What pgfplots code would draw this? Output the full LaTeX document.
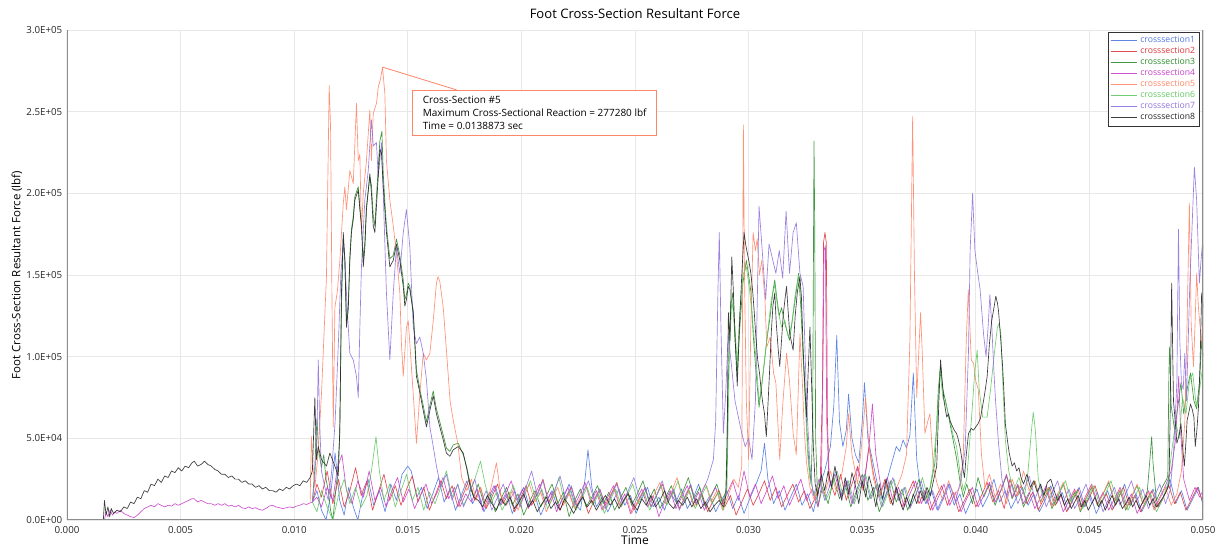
\documentclass[border=0pt]{standalone}
\usepackage{pgfplots}
\pgfplotsset{compat=1.18}
\usepackage{fontspec}
\setmainfont{Open Sans}
\definecolor{c1}{RGB}{80,120,225}
\definecolor{c2}{RGB}{222,55,60}
\definecolor{c3}{RGB}{45,140,45}
\definecolor{c4}{RGB}{200,65,200}
\definecolor{c5}{RGB}{255,135,105}
\definecolor{c6}{RGB}{100,200,100}
\definecolor{c7}{RGB}{145,115,222}
\definecolor{c8}{RGB}{40,40,40}
\begin{document}
\begin{tikzpicture}
\useasboundingbox (-50.25pt,-21.75pt) rectangle (866.25pt,390pt);
\begin{axis}[
  at={(0,0)}, anchor=south west,
  width=852pt, height=367.5pt, scale only axis,
  xmin=0, xmax=50, ymin=0, ymax=300,
  xtick={0,5,...,50},
  xticklabels={0.000,0.005,0.010,0.015,0.020,0.025,0.030,0.035,0.040,0.045,0.050},
  ytick={0,50,...,300},
  yticklabels={0.0E+00,5.0E+04,1.0E+05,1.5E+05,2.0E+05,2.5E+05,3.0E+05},
  major tick length=0pt,
  tick label style={font=\fontsize{7.3}{8}\selectfont, text=black!85},
  xticklabel style={yshift=-1pt},
  grid=major,
  major grid style={draw=black!9, line width=0.6pt},
  axis line style={draw=none},
  title={Foot Cross-Section Resultant Force},
  title style={at={(rel axis cs:0.5,1)}, anchor=center, yshift=6pt, font=\fontsize{9.8}{11}\selectfont},
  xlabel={Time},
  xlabel style={at={(rel axis cs:0.5,0)}, anchor=center, yshift=-15pt, font=\fontsize{9}{10}\selectfont},
  ylabel={Foot Cross-Section Resultant Force (lbf)},
  ylabel style={at={(axis description cs:-0.044,0.5)}, anchor=center, font=\fontsize{8.6}{10}\selectfont},
  every axis plot/.append style={line width=0.5pt, line join=round, opacity=0.9},
  legend style={at={(rel axis cs:0.997,0.996)}, anchor=north east, draw=black!80, line width=0.6pt, fill=white, fill opacity=1, text opacity=1, font=\fontsize{6.5}{7}\selectfont, inner sep=1pt, row sep=-2pt, cells={anchor=west}},
  legend image code/.code={\draw[#1, line width=0.6pt] (0pt,0pt) -- (20pt,0pt);},
]
% crosssection1
\addplot[c1] coordinates {(10.8,11)(11.0,18)(11.2,6)(11.4,0)(11.6,15)(11.8,41)(12.0,12)(12.2,3)(12.4,20)(12.6,8)(12.8,0)(13.0,14)(13.25,25)(13.5,9)(13.75,18)(14.0,5)(14.25,22)(14.5,12)(14.75,28)(15.0,33)(15.15,30)(15.4,14)(15.6,20)(15.85,7)(16.1,16)(16.35,26)(16.6,11)(16.85,19)(17.1,6)(17.35,15)(17.6,24)(17.85,10)(18.1,17)(18.35,5)(18.6,13)(18.85,21)(19.1,9)(19.35,16)(19.6,4)(19.85,12)(20.1,20)(20.35,8)(20.6,15)(20.85,3)(21.1,11)(21.35,18)(21.6,7)(21.85,14)(22.1,22)(22.35,10)(22.6,6)(22.8,25)(22.93,43)(23.1,20)(23.3,8)(23.55,14)(23.8,5)(24.05,12)(24.3,19)(24.55,9)(24.8,15)(25.05,4)(25.3,13)(25.55,20)(25.8,8)(26.05,14)(26.3,6)(26.55,17)(26.8,11)(27.05,19)(27.3,7)(27.55,13)(27.8,22)(28.05,9)(28.3,15)(28.55,5)(28.8,12)(29.05,18)(29.3,7)(29.55,15)(29.8,4)(30.05,13)(30.3,21)(30.55,30)(30.7,47)(30.85,25)(31.1,10)(31.35,18)(31.6,6)(31.85,14)(32.1,22)(32.35,9)(32.6,16)(32.85,5)(33.1,20)(33.35,30)(33.6,45)(33.75,70)(33.88,113)(34.0,60)(34.15,45)(34.3,55)(34.4,77)(34.55,50)(34.7,40)(34.85,35)(35.0,60)(35.1,84)(35.25,50)(35.4,40)(35.55,30)(35.7,20)(35.9,12)(36.1,25)(36.3,35)(36.5,45)(36.65,42)(36.8,49)(36.95,44)(37.1,52)(37.25,90)(37.4,37)(37.55,20)(37.8,10)(38.05,18)(38.3,6)(38.55,14)(38.8,22)(39.05,9)(39.3,16)(39.55,4)(39.8,12)(40.05,19)(40.3,8)(40.55,15)(40.8,25)(41.05,11)(41.3,18)(41.55,7)(41.8,14)(42.05,20)(42.3,9)(42.55,16)(42.8,5)(43.05,12)(43.3,21)(43.55,10)(43.8,17)(44.05,6)(44.3,13)(44.55,20)(44.8,8)(45.05,15)(45.3,4)(45.55,11)(45.8,18)(46.05,7)(46.3,14)(46.55,22)(46.8,9)(47.05,16)(47.3,5)(47.55,12)(47.8,19)(48.05,8)(48.3,15)(48.55,25)(48.8,10)(49.05,18)(49.3,6)(49.55,13)(49.8,20)(50.0,9)};
\addlegendentry{\textcolor{c1}{crosssection1}}
% crosssection2
\addplot[c2] coordinates {(10.8,11)(11.0,22)(11.2,14)(11.45,30)(11.7,10)(11.95,25)(12.2,8)(12.45,18)(12.7,32)(12.95,15)(13.2,24)(13.45,6)(13.7,17)(13.95,28)(14.2,12)(14.45,21)(14.7,9)(14.95,19)(15.2,27)(15.45,11)(15.7,20)(15.95,6)(16.2,15)(16.45,24)(16.7,13)(16.95,21)(17.2,8)(17.45,16)(17.7,25)(17.95,12)(18.2,20)(18.45,7)(18.7,14)(18.95,22)(19.2,10)(19.45,17)(19.7,5)(19.95,13)(20.2,21)(20.45,9)(20.7,16)(20.95,25)(21.2,11)(21.45,18)(21.7,6)(21.95,14)(22.2,20)(22.45,8)(22.7,15)(22.95,4)(23.2,12)(23.45,19)(23.7,9)(23.95,16)(24.2,23)(24.45,10)(24.7,17)(24.95,6)(25.2,13)(25.45,20)(25.7,8)(25.95,15)(26.2,22)(26.45,11)(26.7,18)(26.95,7)(27.2,14)(27.45,21)(27.7,9)(27.95,16)(28.2,5)(28.45,12)(28.7,18)(28.95,8)(29.2,15)(29.45,3)(29.7,11)(29.95,19)(30.2,9)(30.45,16)(30.7,24)(30.95,12)(31.2,20)(31.45,8)(31.7,15)(31.95,22)(32.2,11)(32.45,18)(32.7,7)(32.95,14)(33.15,22)(33.25,80)(33.3,170)(33.36,176)(33.42,170)(33.47,60)(33.55,25)(33.8,15)(34.05,28)(34.3,12)(34.55,22)(34.8,33)(35.05,18)(35.3,45)(35.5,28)(35.75,14)(36.0,25)(36.25,10)(36.5,20)(36.75,8)(37.0,16)(37.25,24)(37.5,10)(37.75,18)(38.0,6)(38.25,14)(38.5,21)(38.75,9)(39.0,17)(39.25,5)(39.5,12)(39.75,19)(40.0,8)(40.25,15)(40.5,23)(40.75,11)(41.0,18)(41.25,7)(41.5,25)(41.75,14)(42.0,21)(42.25,10)(42.5,17)(42.75,6)(43.0,13)(43.25,20)(43.5,9)(43.75,15)(44.0,5)(44.25,12)(44.5,19)(44.75,8)(45.0,14)(45.25,21)(45.5,10)(45.75,16)(46.0,6)(46.25,13)(46.5,20)(46.75,9)(47.0,15)(47.25,5)(47.5,12)(47.75,18)(48.0,8)(48.25,14)(48.5,21)(48.75,10)(49.0,17)(49.25,6)(49.5,13)(49.75,20)(50.0,11)};
\addlegendentry{\textcolor{c2}{crosssection2}}
% crosssection3
\addplot[c3] coordinates {(10.8,11)(10.9,30)(11.0,62)(11.08,42)(11.2,32)(11.3,40)(11.4,25)(11.5,18)(11.6,6)(11.7,0)(11.8,14)(11.9,28)(12.0,50)(12.08,130)(12.16,172)(12.23,160)(12.3,122)(12.38,132)(12.45,162)(12.52,178)(12.6,186)(12.67,198)(12.82,204)(12.89,192)(12.96,182)(13.04,160)(13.11,170)(13.18,192)(13.33,210)(13.4,205)(13.48,186)(13.55,180)(13.62,198)(13.77,232)(13.86,238)(13.92,212)(13.99,195)(14.06,180)(14.21,160)(14.36,162)(14.5,172)(14.65,162)(14.8,147)(14.87,135)(14.94,138)(15.02,145)(15.09,143)(15.24,128)(15.38,92)(15.53,80)(15.68,70)(15.82,60)(15.97,70)(16.12,79)(16.26,68)(16.41,60)(16.56,52)(16.7,44)(16.85,42)(17.0,46)(17.22,47)(17.44,40)(17.6,32)(17.75,22)(17.9,14)(18.1,22)(18.35,10)(18.6,17)(18.85,5)(19.1,13)(19.35,20)(19.6,9)(19.85,16)(20.1,3)(20.35,11)(20.6,18)(20.85,8)(21.1,15)(21.35,22)(21.6,10)(21.85,17)(22.1,2)(22.35,12)(22.6,19)(22.85,8)(23.1,14)(23.35,21)(23.6,10)(23.85,17)(24.1,6)(24.35,13)(24.6,20)(24.85,9)(25.1,16)(25.35,24)(25.6,12)(25.85,19)(26.1,7)(26.35,14)(26.6,21)(26.85,10)(27.1,17)(27.35,26)(27.6,13)(27.85,20)(28.1,8)(28.35,15)(28.6,22)(28.85,10)(29.0,18)(29.1,80)(29.2,130)(29.3,139)(29.4,110)(29.5,90)(29.6,115)(29.75,145)(29.9,159)(30.0,150)(30.1,140)(30.2,114)(30.3,95)(30.46,69)(30.6,85)(30.8,110)(30.95,125)(31.07,140)(31.15,147)(31.25,135)(31.35,125)(31.45,130)(31.6,120)(31.8,110)(31.95,125)(32.1,140)(32.2,151)(32.3,130)(32.4,100)(32.47,84)(32.55,60)(32.65,35)(32.75,22)(32.82,60)(32.86,180)(32.88,232)(32.91,180)(32.95,50)(33.05,8)(33.25,20)(33.5,10)(33.75,26)(34.0,13)(34.25,22)(34.5,8)(34.75,18)(35.0,28)(35.25,12)(35.5,20)(35.75,5)(36.0,14)(36.25,24)(36.5,11)(36.75,19)(37.0,6)(37.25,15)(37.5,25)(37.75,12)(38.0,20)(38.2,35)(38.35,80)(38.45,94)(38.55,80)(38.7,71)(38.85,60)(39.0,49)(39.15,38)(39.3,24)(39.45,14)(39.6,22)(39.85,10)(40.1,26)(40.35,14)(40.6,22)(40.85,9)(41.1,18)(41.35,27)(41.6,13)(41.85,21)(42.1,8)(42.35,16)(42.6,24)(42.85,11)(43.1,19)(43.35,7)(43.6,14)(43.85,22)(44.1,10)(44.35,17)(44.6,5)(44.85,13)(45.1,20)(45.35,9)(45.6,16)(45.85,23)(46.1,11)(46.35,18)(46.6,6)(46.85,14)(47.1,21)(47.35,10)(47.55,18)(47.68,40)(47.74,51)(47.8,35)(47.95,12)(48.2,20)(48.4,25)(48.45,27)(48.5,90)(48.53,106)(48.6,70)(48.75,55)(48.9,70)(49.03,84)(49.15,65)(49.3,80)(49.45,90)(49.6,73)(49.72,68)(49.85,85)(49.94,110)(50.0,100)};
\addlegendentry{\textcolor{c3}{crosssection3}}
% crosssection4
\addplot[c4] coordinates {(0,0)(1.65,0)(1.72,5)(1.8,2)(1.9,6)(2.0,3)(2.1,5)(2.2,4)(2.35,6)(2.5,4)(2.65,3)(2.8,2)(2.95,1.5)(3.1,3)(3.25,5)(3.4,7)(3.55,8)(3.7,9)(3.85,8)(4.0,10)(4.15,9)(4.3,8)(4.45,9)(4.6,8.5)(4.75,10)(4.9,9)(5.05,10)(5.2,11)(5.35,12)(5.5,13)(5.6,13)(5.75,11)(5.9,12)(6.05,11)(6.2,10)(6.35,10)(6.5,9)(6.65,10)(6.8,9)(6.95,10)(7.1,8.5)(7.25,9)(7.4,8)(7.55,9)(7.7,7.5)(7.85,7)(8.0,8)(8.15,7)(8.3,7.5)(8.45,6.5)(8.6,6)(8.75,7)(8.9,8.5)(9.05,9)(9.2,8)(9.35,7.5)(9.5,7)(9.65,7.5)(9.8,8)(9.95,7.5)(10.1,8.5)(10.25,9)(10.4,10)(10.55,9.5)(10.7,10.5)(10.8,11)(11.0,14)(11.2,8)(11.45,20)(11.7,12)(11.9,32)(12.1,40)(12.3,18)(12.55,10)(12.8,24)(13.05,14)(13.3,30)(13.55,12)(13.8,20)(14.05,8)(14.3,18)(14.55,26)(14.8,11)(15.05,19)(15.3,7)(15.55,15)(15.8,22)(16.05,10)(16.3,17)(16.55,26)(16.8,13)(17.05,20)(17.3,8)(17.55,16)(17.8,11)(18.05,19)(18.3,6)(18.55,14)(18.8,21)(19.05,9)(19.3,16)(19.55,24)(19.8,12)(20.05,19)(20.3,7)(20.55,14)(20.8,22)(21.05,10)(21.3,17)(21.55,5)(21.8,13)(22.05,20)(22.3,8)(22.55,15)(22.8,23)(23.05,11)(23.3,18)(23.55,6)(23.8,14)(24.05,21)(24.3,9)(24.55,16)(24.8,4)(25.05,12)(25.3,19)(25.55,8)(25.8,15)(26.05,2)(26.3,11)(26.55,18)(26.8,7)(27.05,14)(27.3,21)(27.55,10)(27.8,17)(28.05,6)(28.3,13)(28.55,20)(28.8,9)(29.05,16)(29.3,24)(29.55,12)(29.8,30)(30.05,14)(30.3,22)(30.55,10)(30.8,18)(31.05,27)(31.3,13)(31.55,21)(31.8,9)(32.05,17)(32.3,25)(32.55,12)(32.8,19)(33.05,8)(33.2,20)(33.27,90)(33.32,165)(33.38,168)(33.44,60)(33.55,20)(33.8,28)(34.05,14)(34.3,24)(34.55,10)(34.8,32)(35.05,20)(35.3,45)(35.45,71)(35.6,40)(35.85,18)(36.1,26)(36.35,12)(36.6,20)(36.85,8)(37.1,16)(37.35,24)(37.6,10)(37.85,18)(38.1,6)(38.35,14)(38.6,22)(38.85,9)(39.1,17)(39.35,5)(39.6,13)(39.85,20)(40.1,8)(40.35,15)(40.6,23)(40.85,11)(41.1,18)(41.35,28)(41.6,14)(41.85,22)(42.1,10)(42.35,17)(42.6,7)(42.85,14)(43.1,21)(43.35,9)(43.6,16)(43.85,5)(44.1,12)(44.35,19)(44.6,8)(44.85,15)(45.1,22)(45.35,10)(45.6,17)(45.85,6)(46.1,13)(46.35,20)(46.6,9)(46.85,16)(47.1,4)(47.35,11)(47.6,18)(47.85,7)(48.1,14)(48.35,21)(48.6,30)(48.8,50)(48.93,88)(49.02,53)(49.15,25)(49.4,12)(49.65,20)(49.85,14)(50.0,18)};
\addlegendentry{\textcolor{c4}{crosssection4}}
% crosssection5
\addplot[c5] coordinates {(10.7,11)(10.76,51)(10.84,30)(10.91,20)(11.05,40)(11.2,77)(11.42,149)(11.54,266)(11.6,241)(11.66,139)(11.72,57)(11.79,130)(11.9,140)(12.01,159)(12.16,194)(12.23,204)(12.3,190)(12.45,214)(12.6,206)(12.74,255)(12.82,220)(12.89,224)(12.96,176)(13.04,200)(13.18,220)(13.33,251)(13.4,220)(13.48,249)(13.62,255)(13.7,265)(13.8,270)(13.8873,277.28)(13.99,261)(14.06,220)(14.21,196)(14.36,180)(14.5,163)(14.65,139)(14.72,108)(14.8,88)(14.94,118)(15.02,122)(15.09,108)(15.24,77)(15.38,47)(15.53,77)(15.68,102)(15.82,98)(15.97,102)(16.12,122)(16.26,145)(16.33,149)(16.41,146)(16.56,130)(16.7,104)(16.86,73)(17.0,61)(17.2,47)(17.37,26)(17.6,18)(17.8,25)(18.0,12)(18.2,20)(18.45,8)(18.7,22)(18.9,35)(19.1,15)(19.35,9)(19.6,18)(19.85,6)(20.1,14)(20.35,22)(20.6,11)(20.85,17)(21.1,5)(21.35,13)(21.6,20)(21.85,9)(22.1,16)(22.35,7)(22.6,14)(22.85,21)(23.1,10)(23.35,17)(23.6,6)(23.85,13)(24.1,19)(24.35,8)(24.6,15)(24.85,4)(25.1,11)(25.35,18)(25.6,9)(25.85,16)(26.1,23)(26.35,10)(26.6,17)(26.85,26)(27.1,12)(27.35,19)(27.6,8)(27.85,15)(28.1,22)(28.35,11)(28.6,18)(28.85,6)(29.1,15)(29.35,25)(29.55,20)(29.7,33)(29.74,150)(29.77,242)(29.82,150)(29.9,73)(30.0,37)(30.1,120)(30.2,176)(30.3,165)(30.38,172)(30.48,150)(30.58,159)(30.72,135)(30.8,106)(30.95,112)(31.1,90)(31.2,84)(31.37,37)(31.5,70)(31.67,102)(31.8,85)(31.96,53)(32.1,40)(32.26,114)(32.38,80)(32.45,55)(32.55,35)(32.7,20)(32.9,12)(33.1,25)(33.35,15)(33.6,30)(33.85,18)(34.1,28)(34.3,45)(34.4,65)(34.55,40)(34.8,22)(35.0,50)(35.15,75)(35.3,45)(35.5,25)(35.75,14)(36.0,24)(36.25,10)(36.5,19)(36.75,28)(36.95,40)(37.1,110)(37.22,247)(37.3,150)(37.4,75)(37.48,100)(37.57,127)(37.65,100)(37.76,53)(37.88,60)(37.98,65)(38.13,33)(38.3,22)(38.55,12)(38.8,24)(39.05,15)(39.3,20)(39.45,40)(39.58,110)(39.67,141)(39.75,115)(39.8,98)(39.9,96)(40.0,85)(40.11,80)(40.25,40)(40.4,20)(40.6,28)(40.85,14)(41.1,22)(41.35,10)(41.6,25)(41.85,15)(42.1,30)(42.35,18)(42.6,24)(42.85,10)(43.1,20)(43.35,8)(43.6,16)(43.85,23)(44.1,11)(44.35,18)(44.6,6)(44.85,14)(45.1,21)(45.35,9)(45.6,16)(45.85,24)(46.1,12)(46.35,19)(46.6,7)(46.85,14)(47.1,22)(47.35,10)(47.6,17)(47.85,6)(48.1,13)(48.35,20)(48.6,9)(48.85,16)(49.05,30)(49.2,60)(49.3,120)(49.4,194)(49.48,120)(49.58,94)(49.65,120)(49.72,151)(49.8,130)(49.86,120)(49.94,110)(50.0,100)};
\addlegendentry{\textcolor{c5}{crosssection5}}
% crosssection6
\addplot[c6] coordinates {(10.8,11)(11.0,5)(11.2,18)(11.45,8)(11.7,0)(11.95,15)(12.2,25)(12.45,10)(12.7,20)(12.95,8)(13.2,15)(13.4,30)(13.6,51)(13.75,30)(13.95,12)(14.2,22)(14.45,8)(14.7,18)(14.95,28)(15.2,12)(15.45,20)(15.7,6)(15.95,17)(16.2,10)(16.45,20)(16.7,30)(16.95,14)(17.2,22)(17.45,9)(17.7,16)(17.95,25)(18.2,36)(18.4,22)(18.65,10)(18.9,17)(19.15,6)(19.4,13)(19.65,21)(19.9,9)(20.15,16)(20.4,24)(20.65,12)(20.9,19)(21.15,7)(21.4,14)(21.65,26)(21.9,11)(22.15,18)(22.4,6)(22.65,13)(22.9,20)(23.15,9)(23.4,16)(23.65,4)(23.9,12)(24.15,19)(24.4,8)(24.65,15)(24.9,22)(25.15,10)(25.4,17)(25.65,6)(25.9,14)(26.15,21)(26.4,9)(26.65,16)(26.9,24)(27.15,11)(27.4,18)(27.65,7)(27.9,14)(28.15,21)(28.4,10)(28.65,17)(28.9,6)(29.05,20)(29.15,100)(29.26,135)(29.4,118)(29.5,95)(29.6,125)(29.75,150)(29.9,155)(30.05,140)(30.2,118)(30.35,95)(30.46,72)(30.6,85)(30.8,110)(31.0,135)(31.15,144)(31.3,128)(31.45,118)(31.6,122)(31.75,112)(31.9,120)(32.05,138)(32.2,150)(32.3,140)(32.4,100)(32.5,70)(32.6,40)(32.7,25)(32.9,15)(33.15,25)(33.4,12)(33.65,20)(33.9,30)(34.15,15)(34.4,24)(34.65,10)(34.9,19)(35.15,28)(35.4,13)(35.65,22)(35.9,8)(36.15,17)(36.4,25)(36.65,12)(36.9,20)(37.15,9)(37.4,17)(37.65,26)(37.9,13)(38.1,30)(38.3,60)(38.42,92)(38.55,75)(38.7,70)(38.85,62)(39.0,52)(39.15,45)(39.3,30)(39.45,18)(39.6,25)(39.8,60)(39.95,90)(40.06,104)(40.15,80)(40.3,63)(40.5,63)(40.65,80)(40.8,100)(40.95,118)(41.02,120)(41.1,115)(41.2,80)(41.3,49)(41.45,30)(41.65,18)(41.9,26)(42.15,15)(42.3,30)(42.45,55)(42.53,66)(42.62,55)(42.75,25)(42.95,14)(43.2,20)(43.45,9)(43.7,17)(43.95,24)(44.2,11)(44.45,18)(44.7,7)(44.95,14)(45.2,21)(45.45,9)(45.7,16)(45.95,24)(46.2,12)(46.45,19)(46.7,6)(46.95,13)(47.2,20)(47.45,9)(47.7,16)(47.95,5)(48.2,12)(48.45,22)(48.65,45)(48.8,60)(48.95,50)(49.1,75)(49.25,65)(49.4,85)(49.55,90)(49.7,70)(49.85,80)(50.0,95)};
\addlegendentry{\textcolor{c6}{crosssection6}}
% crosssection7
\addplot[c7] coordinates {(10.8,11)(10.9,25)(11.0,50)(11.06,98)(11.12,60)(11.2,30)(11.35,20)(11.5,12)(11.65,30)(11.8,60)(11.95,110)(12.05,150)(12.16,170)(12.23,159)(12.35,125)(12.45,102)(12.6,98)(12.74,88)(12.82,75)(12.89,118)(12.96,155)(13.11,196)(13.26,214)(13.4,245)(13.48,229)(13.62,231)(13.7,210)(13.84,231)(13.92,200)(14.06,139)(14.21,98)(14.36,139)(14.5,167)(14.65,151)(14.8,176)(14.94,190)(15.09,167)(15.24,118)(15.38,108)(15.53,112)(15.68,102)(15.82,86)(15.97,57)(16.12,45)(16.26,33)(16.45,20)(16.7,28)(16.95,12)(17.2,22)(17.45,8)(17.7,16)(17.95,25)(18.2,10)(18.45,18)(18.7,6)(18.95,14)(19.2,22)(19.45,11)(19.7,18)(19.95,8)(20.2,20)(20.45,30)(20.7,15)(20.95,24)(21.2,10)(21.45,18)(21.7,27)(21.95,13)(22.2,21)(22.45,8)(22.7,16)(22.95,24)(23.2,12)(23.45,19)(23.7,7)(23.95,15)(24.2,22)(24.45,10)(24.7,18)(24.95,26)(25.2,13)(25.45,20)(25.7,8)(25.95,15)(26.2,24)(26.45,11)(26.7,19)(26.95,6)(27.2,14)(27.45,22)(27.7,10)(27.95,17)(28.2,25)(28.45,37)(28.55,60)(28.65,140)(28.71,176)(28.78,120)(28.89,53)(29.0,80)(29.1,114)(29.25,94)(29.4,73)(29.55,63)(29.7,53)(29.85,45)(30.0,50)(30.15,37)(30.3,73)(30.46,192)(30.6,165)(30.75,135)(30.9,169)(31.05,160)(31.2,151)(31.35,165)(31.5,148)(31.65,189)(31.8,151)(31.96,176)(32.1,182)(32.26,151)(32.4,143)(32.55,73)(32.7,33)(32.85,15)(33.1,25)(33.35,12)(33.6,22)(33.85,30)(34.1,14)(34.35,24)(34.6,10)(34.85,20)(35.1,28)(35.35,13)(35.6,21)(35.85,8)(36.1,17)(36.35,26)(36.6,12)(36.85,20)(37.1,7)(37.35,15)(37.6,24)(37.85,10)(38.1,18)(38.35,6)(38.6,14)(38.85,22)(39.1,11)(39.35,25)(39.53,43)(39.68,104)(39.75,165)(39.86,200)(39.96,165)(40.07,153)(40.19,141)(40.34,114)(40.45,100)(40.55,120)(40.62,138)(40.7,120)(40.8,90)(40.87,73)(41.0,47)(41.15,25)(41.35,14)(41.6,22)(41.85,10)(42.1,18)(42.35,27)(42.6,13)(42.85,21)(43.1,8)(43.35,16)(43.6,24)(43.85,11)(44.1,19)(44.35,7)(44.6,14)(44.85,22)(45.1,10)(45.35,17)(45.6,5)(45.85,13)(46.1,20)(46.35,9)(46.6,16)(46.85,24)(47.1,12)(47.35,19)(47.6,7)(47.85,14)(48.1,22)(48.35,10)(48.55,18)(48.7,40)(48.85,84)(48.92,178)(48.98,110)(49.05,84)(49.13,80)(49.2,102)(49.27,73)(49.35,110)(49.42,145)(49.52,180)(49.62,216)(49.72,196)(49.84,145)(49.92,160)(49.98,170)(50.0,165)};
\addlegendentry{\textcolor{c7}{crosssection7}}
% crosssection8
\addplot[c8] coordinates {(0,0)(1.6,0)(1.65,12)(1.72,3)(1.8,8)(1.88,2)(1.95,7)(2.05,4)(2.2,6)(2.35,5)(2.5,8)(2.65,7)(2.8,11)(2.95,10)(3.1,14)(3.25,13)(3.4,18)(3.55,17)(3.7,22)(3.85,21)(4.0,25)(4.15,23)(4.3,27)(4.45,26)(4.6,30)(4.75,29)(4.9,32)(5.05,30)(5.2,33)(5.35,32)(5.5,35)(5.6,36)(5.75,33)(5.9,34)(6.05,36)(6.2,34)(6.35,33)(6.5,31)(6.65,30)(6.8,28)(6.95,28)(7.1,26)(7.25,27)(7.4,25)(7.55,25)(7.7,23)(7.85,24)(8.0,22)(8.15,22)(8.3,20)(8.45,21)(8.6,19)(8.75,20)(8.9,18)(9.05,18)(9.2,17)(9.35,19)(9.5,18)(9.65,20)(9.8,19)(9.95,21)(10.1,22)(10.25,21)(10.4,24)(10.55,23)(10.7,26)(10.8,30)(10.91,75)(10.98,37)(11.06,45)(11.2,37)(11.42,33)(11.57,41)(11.79,33)(11.94,27)(12.01,57)(12.08,139)(12.16,176)(12.23,159)(12.3,118)(12.38,129)(12.45,159)(12.52,176)(12.6,184)(12.67,196)(12.82,202)(12.89,190)(12.96,180)(13.04,155)(13.11,167)(13.18,190)(13.33,212)(13.4,200)(13.48,180)(13.55,176)(13.62,192)(13.77,227)(13.84,225)(13.92,204)(13.99,190)(14.06,176)(14.21,155)(14.36,159)(14.5,169)(14.65,159)(14.8,143)(14.87,131)(14.94,135)(15.02,143)(15.09,141)(15.24,127)(15.38,88)(15.53,78)(15.68,67)(15.82,57)(15.97,67)(16.12,76)(16.26,65)(16.41,57)(16.56,49)(16.7,41)(16.85,39)(17.0,43)(17.22,45)(17.44,41)(17.6,31)(17.75,20)(17.9,14)(18.1,12)(18.3,8)(18.5,15)(18.7,10)(18.9,6)(19.1,13)(19.3,9)(19.5,14)(19.7,7)(19.9,11)(20.1,16)(20.3,8)(20.5,12)(20.7,5)(20.9,10)(21.1,14)(21.3,7)(21.5,11)(21.7,6)(21.9,13)(22.1,9)(22.3,4)(22.5,10)(22.7,14)(22.9,8)(23.1,12)(23.3,6)(23.5,11)(23.7,15)(23.9,9)(24.1,13)(24.3,7)(24.5,12)(24.7,16)(24.9,10)(25.1,6)(25.3,13)(25.5,9)(25.7,15)(25.9,8)(26.1,12)(26.3,18)(26.5,10)(26.7,7)(26.9,12)(27.1,9)(27.3,14)(27.5,8)(27.7,13)(27.9,7)(28.1,11)(28.3,5)(28.5,9)(28.7,12)(28.9,8)(29.0,15)(29.05,40)(29.11,127)(29.18,110)(29.26,161)(29.33,140)(29.4,114)(29.5,82)(29.6,120)(29.7,150)(29.8,176)(29.88,168)(29.95,163)(30.02,158)(30.1,151)(30.18,140)(30.25,127)(30.32,112)(30.4,98)(30.48,90)(30.55,80)(30.62,72)(30.7,65)(30.78,51)(30.85,70)(30.92,90)(31.0,115)(31.07,131)(31.15,139)(31.22,120)(31.3,105)(31.37,94)(31.45,110)(31.52,125)(31.6,135)(31.67,143)(31.74,128)(31.81,114)(31.9,108)(31.96,104)(32.05,125)(32.15,140)(32.26,149)(32.33,135)(32.4,105)(32.48,80)(32.55,63)(32.62,90)(32.7,118)(32.78,80)(32.85,45)(32.93,22)(33.05,15)(33.2,28)(33.35,18)(33.5,30)(33.65,20)(33.8,33)(33.95,22)(34.1,12)(34.25,26)(34.4,16)(34.55,29)(34.7,21)(34.85,10)(35.0,24)(35.15,14)(35.3,27)(35.45,19)(35.6,8)(35.75,22)(35.9,13)(36.05,25)(36.2,15)(36.35,9)(36.5,20)(36.65,12)(36.8,6)(36.95,14)(37.1,8)(37.25,16)(37.4,10)(37.55,18)(37.7,12)(37.85,20)(38.0,15)(38.15,25)(38.28,33)(38.38,75)(38.45,98)(38.52,85)(38.6,73)(38.72,63)(38.8,65)(38.86,61)(38.95,58)(39.05,55)(39.15,53)(39.2,51)(39.3,45)(39.37,39)(39.45,30)(39.5,26)(39.58,40)(39.68,53)(39.8,56)(39.9,55)(40.0,57)(40.1,59)(40.2,62)(40.34,73)(40.42,80)(40.5,88)(40.6,108)(40.7,122)(40.8,130)(40.88,137)(40.95,133)(41.0,128)(41.1,110)(41.18,94)(41.25,75)(41.3,59)(41.4,48)(41.47,41)(41.6,33)(41.7,35)(41.8,30)(41.9,32)(41.99,26)(42.1,22)(42.25,28)(42.4,20)(42.55,24)(42.7,17)(42.85,22)(43.0,15)(43.15,23)(43.3,25)(43.45,18)(43.6,12)(43.75,16)(43.9,9)(44.05,13)(44.2,7)(44.35,11)(44.5,15)(44.65,8)(44.8,12)(44.95,6)(45.1,10)(45.25,14)(45.4,8)(45.55,12)(45.7,6)(45.85,11)(46.0,15)(46.15,9)(46.3,13)(46.45,7)(46.6,10)(46.75,14)(46.9,8)(47.05,12)(47.2,7)(47.35,11)(47.5,15)(47.65,9)(47.8,13)(47.95,8)(48.1,11)(48.25,14)(48.4,18)(48.5,22)(48.55,60)(48.62,145)(48.7,73)(48.78,60)(48.85,47)(48.95,52)(49.03,59)(49.1,45)(49.18,33)(49.25,48)(49.3,61)(49.38,66)(49.45,71)(49.52,68)(49.6,63)(49.66,45)(49.73,55)(49.8,69)(49.87,95)(49.94,139)(50.0,130)};
\addlegendentry{\textcolor{c8}{crosssection8}}
% annotation
\draw[c5, line width=0.6pt] (axis cs:13.8873,277.28) -- (axis cs:17.15,263.3);
\node[anchor=north west, draw=c5, line width=0.6pt, fill=white, align=left, inner xsep=3pt, inner ysep=3pt, font=\fontsize{7.5}{9.6}\selectfont, minimum width=183pt, minimum height=34pt] at (axis cs:15.2,263.3) {Cross-Section \#5\\Maximum Cross-Sectional Reaction = 277280 lbf\\Time = 0.0138873 sec};
% frame (left, bottom, right)
\draw[black!45, line width=1.4pt] (rel axis cs:0,1) -- (rel axis cs:0,0) -- (rel axis cs:1,0) -- (rel axis cs:1,1);
\end{axis}
\end{tikzpicture}
\end{document}
